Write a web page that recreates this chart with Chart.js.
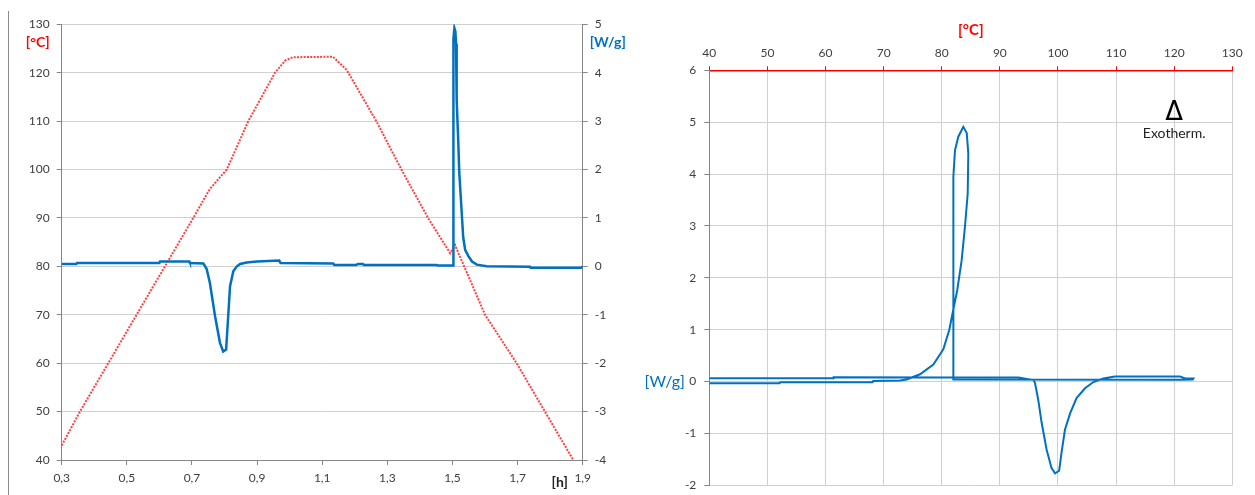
<!DOCTYPE html>
<html>
<head>
<meta charset="utf-8">
<script src="https://cdn.jsdelivr.net/npm/chart.js@4.4.1/dist/chart.umd.min.js"></script>
<style>
  html, body { margin: 0; padding: 0; background: #fff; }
  #edge { position: absolute; left: 8px; top: 11px; width: 1px; height: 484px; background: #8c8c8c; }
  #left { position: absolute; left: 0; top: 0; width: 640px; height: 495px; }
  #right { position: absolute; left: 640px; top: 0; width: 615px; height: 495px; }
</style>
</head>
<body>
<div id="edge"></div>
<div id="left"><canvas id="timeChart"></canvas></div>
<div id="right"><canvas id="loopChart"></canvas></div>
<script>
// ---- left chart: temperature and heat flow over time ----
const hourTicks = [0.3, 0.5, 0.7, 0.9, 1.1, 1.3, 1.5, 1.7, 1.9];

const tempTime = [0.300, 0.356, 0.443, 0.530, 0.617, 0.704, 0.755, 0.807, 0.873, 0.955, 0.986, 1.010,
                  1.133, 1.175, 1.267, 1.344, 1.426, 1.493, 1.508, 1.523, 1.554, 1.600, 1.697, 1.784, 1.871];
const tempC    = [43.0, 50, 60, 70, 80, 90, 96, 100, 110, 120, 122.5, 123.2,
                  123.3, 120.6, 109.9, 99.9, 89.9, 82.7, 84.4, 82.0, 77.2, 70, 60, 50, 40];

const hfTime = [0.300, 0.345, 0.347, 0.600, 0.602, 0.692, 0.694, 0.735, 0.745, 0.755, 0.771, 0.786,
                0.796, 0.805, 0.810, 0.817, 0.827, 0.838, 0.848, 0.868, 0.900, 0.968, 0.972, 1.134,
                1.137, 1.205, 1.210, 1.225, 1.228, 1.450, 1.455, 1.502, 1.503, 1.506, 1.509, 1.511,
                1.513, 1.518, 1.521, 1.526, 1.533, 1.539, 1.549, 1.560, 1.575, 1.605, 1.738, 1.740,
                1.895, 1.900];
const hfWg   = [0.05, 0.05, 0.07, 0.07, 0.10, 0.10, 0.07, 0.06, -0.05, -0.34, -1.03, -1.58,
                -1.76, -1.72, -1.17, -0.41, -0.10, 0.00, 0.05, 0.08, 0.10, 0.12, 0.07, 0.06,
                0.03, 0.03, 0.05, 0.05, 0.03, 0.03, 0.02, 0.02, 4.70, 4.92, 4.85, 4.60,
                3.43, 2.55, 1.93, 1.38, 0.60, 0.34, 0.21, 0.10, 0.035, 0.00, -0.01, -0.03,
                -0.03, 0.00];

// ---- right chart: heat flow against temperature ----
const loopT  = [40, 61.3, 61.4, 81.5, 93.2, 94.9, 95.8, 96.05, 96.6, 97.2, 98.06, 98.9,
                99.5, 100.2, 100.6, 101.2, 102.1, 103.2, 104.65, 106.1, 107.8, 109.8, 121.0, 121.9,
                123.3, 123.2, 121.0, 82.0, 82.0, 82.28, 82.85, 83.71, 84.3, 84.57, 84.47, 84.0,
                83.43, 82.68, 81.99, 81.3, 80.27, 78.55, 76.26, 73.97, 72.8, 68.2, 68.1, 52.2,
                52.1, 40];
const loopHF = [0.064, 0.064, 0.084, 0.08, 0.076, 0.045, 0.03, -0.03, -0.35, -0.80, -1.32, -1.67,
                -1.77, -1.72, -1.38, -0.93, -0.61, -0.32, -0.13, -0.01, 0.06, 0.095, 0.095, 0.06,
                0.06, 0.04, 0.035, 0.04, 3.95, 4.46, 4.72, 4.91, 4.79, 4.40, 3.63, 2.99,
                2.34, 1.77, 1.39, 1.00, 0.62, 0.33, 0.14, 0.04, 0.02, 0.01, -0.013, -0.013,
                -0.032, -0.032];

const exoMark = { x: 120, y: 5.18 };
const exoText = { x: 120, y: 4.79 };

const BLUE = '#0070c0';
const RED = '#ff0000';
const GRID = '#d0d0d0';
const AXIS = '#868686';
const TICK_TEXT = '#404040';
const FONT = 'Lato';

// plain text placed by the chart (axis captions, annotation)
const freeText = {
  id: 'freeText',
  afterDraw(chart, args, opts) {
    const ctx = chart.ctx;
    (opts.items || []).forEach(it => {
      const p = it.at(chart);
      ctx.save();
      ctx.font = it.font;
      ctx.fillStyle = it.color;
      ctx.textAlign = it.align || 'center';
      ctx.textBaseline = 'middle';
      ctx.fillText(it.text, p[0], p[1]);
      ctx.restore();
    });
  }
};

const pairs = (xs, ys) => xs.map((x, i) => ({ x: x, y: ys[i] }));

// fixed axis width, no extra room reserved for the end labels
const fixWidth = w => s => { s.width = w; s.paddingTop = 0; s.paddingBottom = 0; };

new Chart(document.getElementById('timeChart'), {
  type: 'scatter',
  plugins: [freeText],
  data: {
    datasets: [
      {
        data: pairs(hfTime, hfWg),
        yAxisID: 'yW',
        showLine: true,
        borderColor: BLUE,
        borderWidth: 2.5,
        pointRadius: 0,
        tension: 0
      },
      {
        data: pairs(tempTime, tempC),
        yAxisID: 'yT',
        showLine: true,
        borderColor: 'rgba(255, 30, 30, 0.85)',
        borderWidth: 2,
        borderDash: [2, 1.3],
        pointRadius: 0,
        tension: 0
      }
    ]
  },
  options: {
    responsive: true,
    maintainAspectRatio: false,
    animation: false,
    layout: { padding: { top: 24.3, left: 0, right: 0, bottom: 0 } },
    plugins: {
      legend: { display: false },
      tooltip: { enabled: false },
      freeText: {
        items: [
          { text: '[°C]', font: 'bold 14px ' + FONT, color: RED, align: 'right',
            at: c => [c.chartArea.left - 12, c.chartArea.top + 18] },
          { text: '[W/g]', font: 'bold 14px ' + FONT, color: BLUE, align: 'left',
            at: c => [c.chartArea.right + 7, c.chartArea.top + 18] },
          { text: '[h]', font: 'bold 14px ' + FONT, color: '#222', align: 'center',
            at: c => [c.chartArea.right - 23, c.chartArea.bottom + 22] }
        ]
      }
    },
    scales: {
      x: {
        type: 'linear',
        min: 0.3,
        max: 1.9,
        afterBuildTicks: s => { s.ticks = hourTicks.map(v => ({ value: v })); },
        afterFit: s => { s.height = 35; },
        grid: { drawOnChartArea: false, tickLength: 5, tickColor: AXIS },
        border: { color: AXIS },
        ticks: {
          color: TICK_TEXT,
          font: { family: FONT, size: 12 },
          padding: 6,
          maxRotation: 0,
          autoSkip: false,
          callback: v => v.toFixed(1).replace('.', ',')
        }
      },
      yT: {
        position: 'left',
        min: 40,
        max: 130,
        afterFit: fixWidth(61.7),
        grid: { color: GRID, tickLength: 5, tickColor: AXIS },
        border: { color: AXIS },
        ticks: { stepSize: 10, color: TICK_TEXT, font: { family: FONT, size: 12 }, padding: 7 }
      },
      yW: {
        position: 'right',
        min: -4,
        max: 5,
        afterFit: fixWidth(57.3),
        grid: { drawOnChartArea: false, tickLength: 5, tickColor: AXIS },
        border: { color: AXIS },
        ticks: { stepSize: 1, color: TICK_TEXT, font: { family: FONT, size: 12 }, padding: 7 }
      }
    }
  }
});

new Chart(document.getElementById('loopChart'), {
  type: 'scatter',
  plugins: [freeText],
  data: {
    datasets: [{
      data: pairs(loopT, loopHF),
      showLine: true,
      borderColor: BLUE,
      borderWidth: 2,
      pointRadius: 0,
      tension: 0
    }]
  },
  options: {
    responsive: true,
    maintainAspectRatio: false,
    animation: false,
    layout: { padding: { top: 0, left: 0, right: 22.7, bottom: 9.7 } },
    plugins: {
      legend: { display: false },
      tooltip: { enabled: false },
      freeText: {
        items: [
          { text: '[°C]', font: 'bold 15px ' + FONT, color: RED, align: 'center',
            at: c => [(c.chartArea.left + c.chartArea.right) / 2, 30] },
          { text: '[W/g]', font: '16px ' + FONT, color: BLUE, align: 'right',
            at: c => [45, c.scales.y.getPixelForValue(0)] },
          { text: 'Δ', font: '26px "DejaVu Sans"', color: '#000', align: 'center',
            at: c => [c.scales.x.getPixelForValue(exoMark.x), c.scales.y.getPixelForValue(exoMark.y)] },
          { text: 'Exotherm.', font: '14px ' + FONT, color: '#222', align: 'center',
            at: c => [c.scales.x.getPixelForValue(exoText.x), c.scales.y.getPixelForValue(exoText.y)] }
        ]
      }
    },
    scales: {
      x: {
        type: 'linear',
        position: 'top',
        min: 40,
        max: 130,
        afterFit: s => { s.height = 70.3; },
        grid: { color: GRID, tickLength: 4, tickColor: RED },
        border: { color: RED, width: 1.5 },
        ticks: { stepSize: 10, color: TICK_TEXT, font: { family: FONT, size: 12 }, padding: 6, maxRotation: 0 }
      },
      y: {
        min: -2,
        max: 6,
        afterFit: fixWidth(69.3),
        grid: { color: GRID, tickLength: 5, tickColor: AXIS },
        border: { color: AXIS },
        ticks: { stepSize: 1, color: TICK_TEXT, font: { family: FONT, size: 12 }, padding: 8 }
      }
    }
  }
});
</script>
</body>
</html>
